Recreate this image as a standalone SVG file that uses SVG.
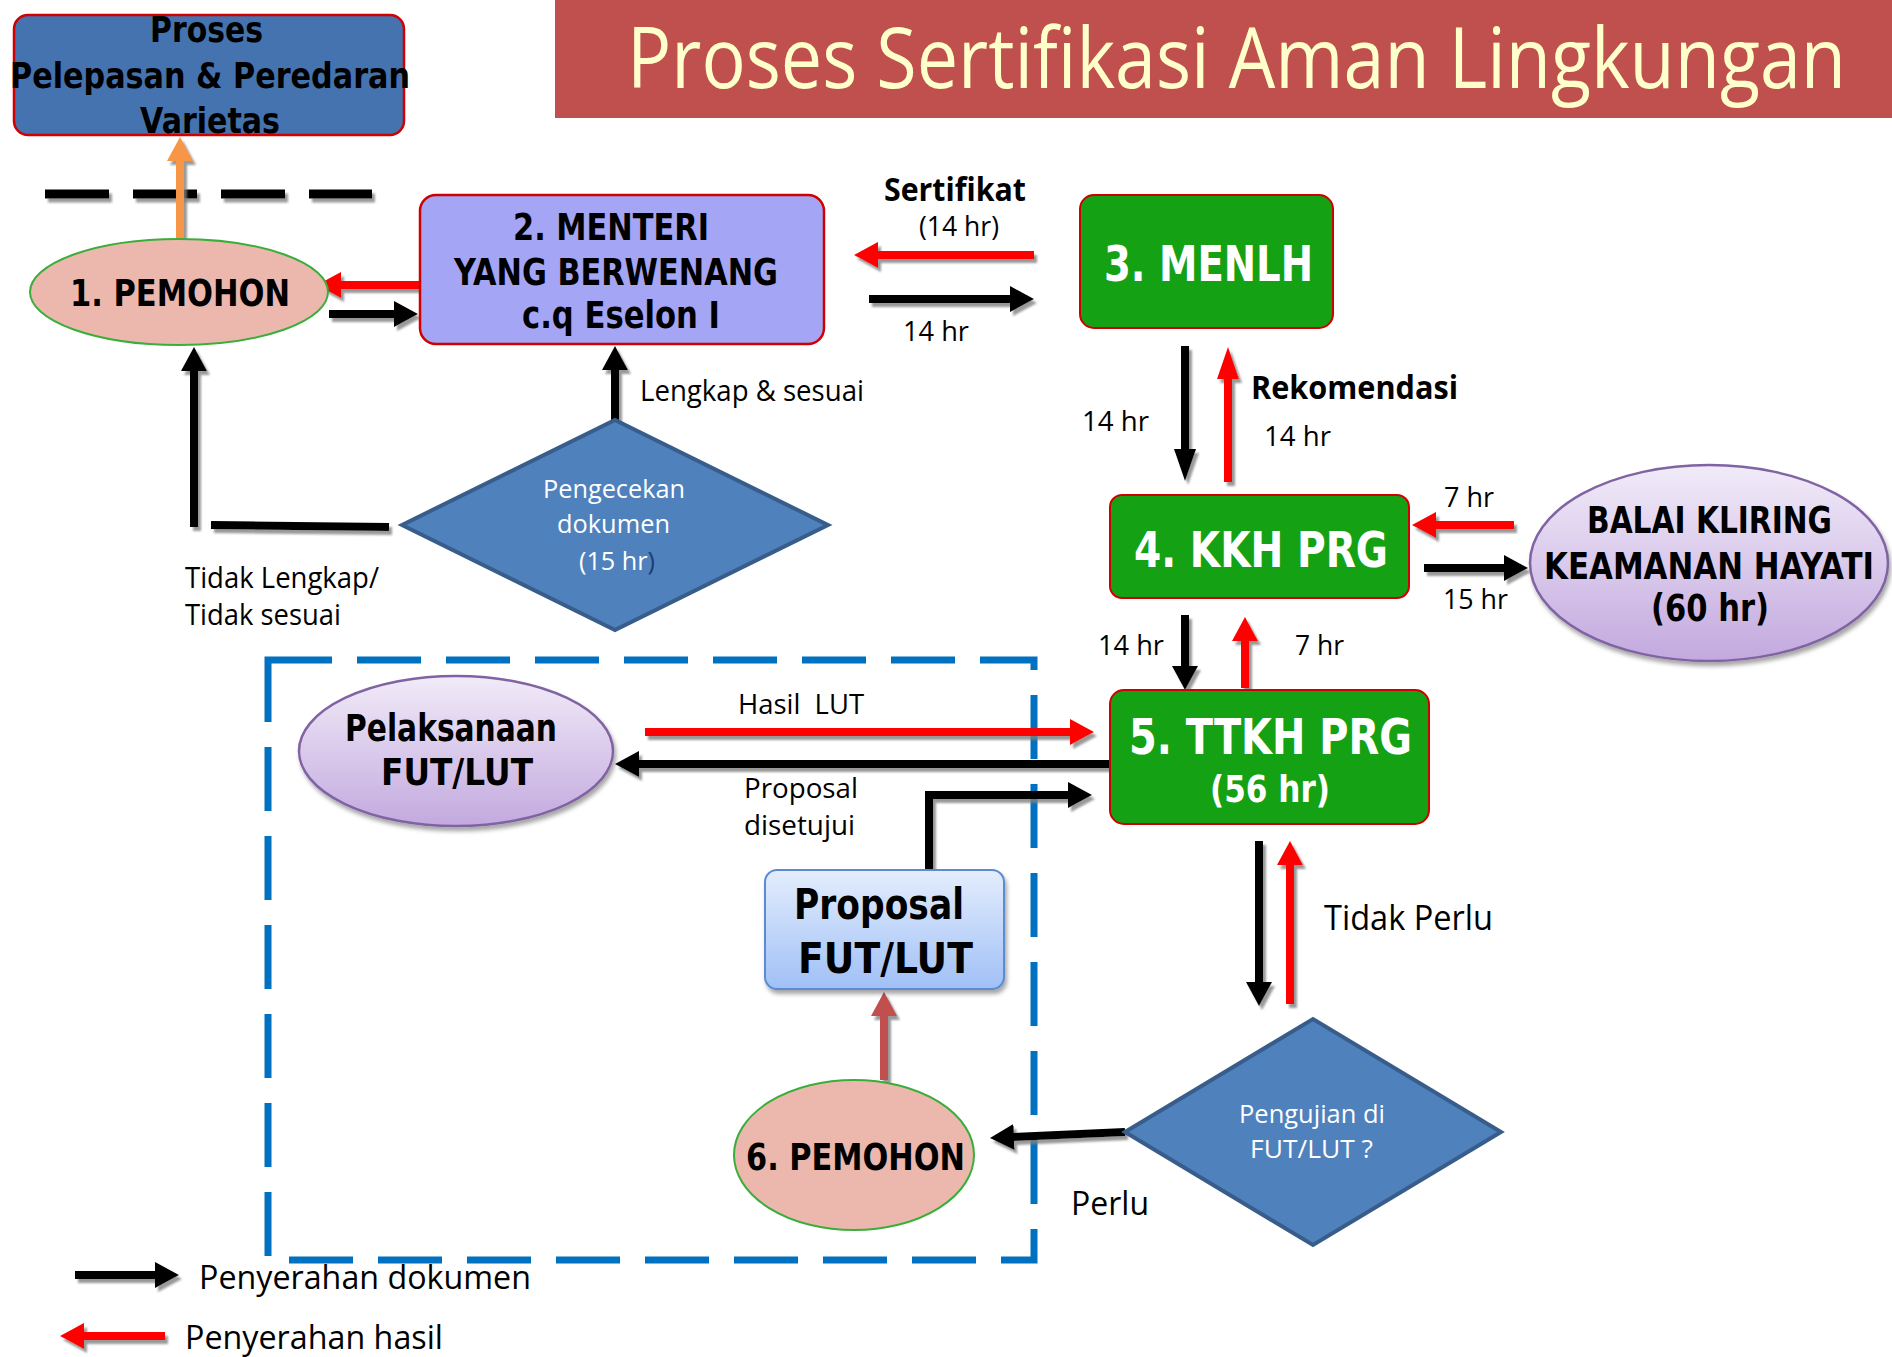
<svg xmlns="http://www.w3.org/2000/svg" width="1892" height="1357" viewBox="0 0 1892 1357">
<style>
.b{font-family:"DejaVu Sans","Liberation Sans",sans-serif;font-weight:bold;fill:#000}
.w{fill:#fff}
.r{font-family:"Open Sans","Liberation Sans",sans-serif;fill:#000}
.rb{font-family:"Open Sans","Liberation Sans",sans-serif;font-weight:bold;fill:#000}
.ln{fill:none;stroke-width:8}
.k{stroke:#000}.red{stroke:#ff0000}.or{stroke:#f79646}.br{stroke:#c0504d}
.grn{fill:#14a114;stroke:#d00000;stroke-width:2}
.dia{fill:#4f81bd;stroke:#385d8a;stroke-width:4}
</style>
<defs>
<filter id="ash" filterUnits="userSpaceOnUse" x="0" y="0" width="1892" height="1357">
<feDropShadow dx="3" dy="4" stdDeviation="0.8" flood-color="#808080" flood-opacity="0.8"/>
</filter>
<filter id="nsh" x="-10%" y="-10%" width="130%" height="130%">
<feDropShadow dx="2" dy="4" stdDeviation="2" flood-color="#000" flood-opacity="0.35"/>
</filter>
<linearGradient id="pg" x1="0" y1="0" x2="0" y2="1"><stop offset="0" stop-color="#f1ebf8"/><stop offset="1" stop-color="#c3a9df"/></linearGradient>
<linearGradient id="bg" x1="0" y1="0" x2="0" y2="1"><stop offset="0" stop-color="#e4edfd"/><stop offset="1" stop-color="#a0c0f6"/></linearGradient>
<marker id="mk" viewBox="0 0 24 26" markerWidth="24" markerHeight="26" refX="1" refY="13" orient="auto" markerUnits="userSpaceOnUse"><path d="M0,0L24,13L0,26z" fill="#000"/></marker>
<marker id="mr" viewBox="0 0 24 26" markerWidth="24" markerHeight="26" refX="1" refY="13" orient="auto" markerUnits="userSpaceOnUse"><path d="M0,0L24,13L0,26z" fill="#ff0000"/></marker>
<marker id="mo" viewBox="0 0 24 26" markerWidth="24" markerHeight="26" refX="1" refY="13" orient="auto" markerUnits="userSpaceOnUse"><path d="M0,0L24,13L0,26z" fill="#f79646"/></marker>
<marker id="mb" viewBox="0 0 24 26" markerWidth="24" markerHeight="26" refX="1" refY="13" orient="auto" markerUnits="userSpaceOnUse"><path d="M0,0L24,13L0,26z" fill="#c0504d"/></marker>
<marker id="mkl" viewBox="0 0 32 22" markerWidth="32" markerHeight="22" refX="1" refY="11" orient="auto" markerUnits="userSpaceOnUse"><path d="M0,0L32,11L0,22z" fill="#000"/></marker>
<marker id="mrl" viewBox="0 0 32 22" markerWidth="32" markerHeight="22" refX="1" refY="11" orient="auto" markerUnits="userSpaceOnUse"><path d="M0,0L32,11L0,22z" fill="#ff0000"/></marker>
</defs>
<rect width="1892" height="1357" fill="#fff"/>

<g id="title">
<rect x="555" y="0" width="1337" height="118" fill="#c0504d"/>
<text class="r" x="627" y="88" font-size="84" textLength="1219" lengthAdjust="spacingAndGlyphs" style="fill:#ffffcc">Proses Sertifikasi Aman Lingkungan</text>
</g>

<g id="divider" filter="url(#ash)">
<line x1="45" y1="194" x2="372" y2="194" stroke="#000" stroke-width="9" stroke-dasharray="64 24"/>
</g>

<g id="fut-area">
<rect x="268" y="660" width="766" height="600" fill="none" stroke="#0070c0" stroke-width="7" stroke-dasharray="64 25"/>
</g>

<g id="connectors" filter="url(#ash)">
<line class="ln or" x1="180" y1="240" x2="180" y2="160" stroke-width="7" marker-end="url(#mo)"/>
<line class="ln red" x1="420" y1="285" x2="340" y2="285" marker-end="url(#mr)"/>
<line class="ln k" x1="329" y1="314" x2="395" y2="314" marker-end="url(#mk)"/>
<line class="ln red" x1="1034" y1="255" x2="877" y2="255" marker-end="url(#mr)"/>
<line class="ln k" x1="869" y1="299" x2="1011" y2="299" marker-end="url(#mk)"/>
<line class="ln k" x1="1185" y1="346" x2="1185" y2="450" stroke-width="7" marker-end="url(#mkl)"/>
<line class="ln red" x1="1228" y1="482" x2="1228" y2="378" stroke-width="7" marker-end="url(#mrl)"/>
<line class="ln red" x1="1514" y1="525" x2="1435" y2="525" marker-end="url(#mr)"/>
<line class="ln k" x1="1424" y1="568" x2="1505" y2="568" marker-end="url(#mk)"/>
<line class="ln k" x1="1185" y1="615" x2="1185" y2="667" stroke-width="7" marker-end="url(#mk)"/>
<line class="ln red" x1="1245" y1="688" x2="1245" y2="640" stroke-width="7" marker-end="url(#mr)"/>
<line class="ln red" x1="645" y1="732" x2="1071" y2="732" marker-end="url(#mr)"/>
<line class="ln k" x1="1110" y1="764" x2="638" y2="764" marker-end="url(#mk)"/>
<path class="ln k" d="M929,870V795H1069" marker-end="url(#mk)"/>
<line class="ln br" x1="884" y1="1080" x2="884" y2="1015" stroke-width="7" marker-end="url(#mb)"/>
<line class="ln k" x1="1125" y1="1132" x2="1013" y2="1137" marker-end="url(#mk)"/>
<line class="ln k" x1="1259" y1="841" x2="1259" y2="983" stroke-width="7" marker-end="url(#mk)"/>
<line class="ln red" x1="1290" y1="1004" x2="1290" y2="864" stroke-width="7" marker-end="url(#mr)"/>
<line class="ln k" x1="615" y1="420" x2="615" y2="369" stroke-width="7" marker-end="url(#mk)"/>
<line class="ln k" x1="389" y1="527" x2="211" y2="525" stroke-width="9"/>
<line class="ln k" x1="194" y1="527" x2="194" y2="370" stroke-width="7" marker-end="url(#mk)"/>
<line class="ln k" x1="75" y1="1275" x2="156" y2="1275" marker-end="url(#mk)"/>
<line class="ln red" x1="165" y1="1336" x2="83" y2="1336" marker-end="url(#mr)"/>
</g>

<g id="node-proses">
<rect x="14" y="15" width="390" height="120" rx="14" fill="#4473b0" stroke="#d00000" stroke-width="2.5"/>
<text class="b" x="150" y="42" font-size="35" textLength="113" lengthAdjust="spacingAndGlyphs">Proses</text>
<text class="b" x="10" y="88" font-size="35" textLength="400" lengthAdjust="spacingAndGlyphs">Pelepasan &amp; Peredaran</text>
<text class="b" x="140" y="133" font-size="35" textLength="140" lengthAdjust="spacingAndGlyphs">Varietas</text>
</g>

<g id="node-pemohon1">
<ellipse cx="179" cy="292" rx="149" ry="53" fill="#ecb8ae" stroke="#3aae3a" stroke-width="2"/>
<text class="b" x="70" y="306" font-size="37" textLength="220" lengthAdjust="spacingAndGlyphs">1. PEMOHON</text>
</g>

<g id="node-menteri">
<rect x="420" y="195" width="404" height="149" rx="16" fill="#a5a5f5" stroke="#d00000" stroke-width="2.5"/>
<text class="b" x="513" y="240" font-size="37" textLength="196" lengthAdjust="spacingAndGlyphs">2. MENTERI</text>
<text class="b" x="454" y="285" font-size="37" textLength="324" lengthAdjust="spacingAndGlyphs">YANG BERWENANG</text>
<text class="b" x="522" y="328" font-size="37" textLength="198" lengthAdjust="spacingAndGlyphs">c.q Eselon I</text>
</g>

<g id="node-menlh">
<rect class="grn" x="1080" y="195" width="253" height="133" rx="14"/>
<text class="b w" x="1104" y="281" font-size="50" textLength="209" lengthAdjust="spacingAndGlyphs">3. MENLH</text>
</g>

<g id="node-kkh">
<rect class="grn" x="1110" y="495" width="299" height="103" rx="12"/>
<text class="b w" x="1134" y="567" font-size="49" textLength="254" lengthAdjust="spacingAndGlyphs">4. KKH PRG</text>
</g>

<g id="node-balai">
<ellipse cx="1709" cy="563" rx="179" ry="98" fill="url(#pg)" stroke="#8064a2" stroke-width="2.5" filter="url(#nsh)"/>
<text class="b" x="1587" y="533" font-size="37" textLength="245" lengthAdjust="spacingAndGlyphs">BALAI KLIRING</text>
<text class="b" x="1544" y="579" font-size="37" textLength="330" lengthAdjust="spacingAndGlyphs">KEAMANAN HAYATI</text>
<text class="b" x="1651" y="621" font-size="37" textLength="118" lengthAdjust="spacingAndGlyphs">(60 hr)</text>
</g>

<g id="node-ttkh">
<rect class="grn" x="1110" y="690" width="319" height="134" rx="14"/>
<text class="b w" x="1129" y="754" font-size="49" textLength="283" lengthAdjust="spacingAndGlyphs">5. TTKH PRG</text>
<text class="b w" x="1210" y="802" font-size="38" textLength="120" lengthAdjust="spacingAndGlyphs">(56 hr)</text>
</g>

<g id="node-pengecekan">
<polygon class="dia" points="402,525 615,420 828,525 615,630"/>
<text class="r" x="543" y="498" font-size="25" textLength="142" lengthAdjust="spacingAndGlyphs" style="fill:#fff">Pengecekan</text>
<text class="r" x="557" y="533" font-size="25" textLength="113" lengthAdjust="spacingAndGlyphs" style="fill:#fff">dokumen</text>
<text class="r" x="579" y="570" font-size="25" textLength="76" lengthAdjust="spacingAndGlyphs" style="fill:#fff">(15 hr<tspan style="fill:#1f3c6e">)</tspan></text>
</g>

<g id="node-pelaksanaan">
<ellipse cx="456" cy="751" rx="157" ry="75" fill="url(#pg)" stroke="#8064a2" stroke-width="2.5" filter="url(#nsh)"/>
<text class="b" x="345" y="741" font-size="37" textLength="212" lengthAdjust="spacingAndGlyphs">Pelaksanaan</text>
<text class="b" x="381" y="785" font-size="37" textLength="152" lengthAdjust="spacingAndGlyphs">FUT/LUT</text>
</g>

<g id="node-proposal">
<rect x="765" y="870" width="239" height="119" rx="12" fill="url(#bg)" stroke="#5b8bd0" stroke-width="2" filter="url(#nsh)"/>
<text class="b" x="794" y="919" font-size="43" textLength="170" lengthAdjust="spacingAndGlyphs">Proposal</text>
<text class="b" x="798" y="973" font-size="43" textLength="175" lengthAdjust="spacingAndGlyphs">FUT/LUT</text>
</g>

<g id="node-pemohon6">
<ellipse cx="854" cy="1155" rx="120" ry="75" fill="#ecb8ae" stroke="#3aae3a" stroke-width="2"/>
<text class="b" x="746" y="1170" font-size="37" textLength="219" lengthAdjust="spacingAndGlyphs">6. PEMOHON</text>
</g>

<g id="node-pengujian">
<polygon class="dia" points="1125,1132 1313,1019 1501,1132 1313,1245"/>
<text class="r" x="1239" y="1123" font-size="26" textLength="146" lengthAdjust="spacingAndGlyphs" style="fill:#fff">Pengujian di</text>
<text class="r" x="1250" y="1158" font-size="26" textLength="123" lengthAdjust="spacingAndGlyphs" style="fill:#fff">FUT/LUT ?</text>
</g>

<g id="labels">
<text class="rb" x="884" y="201" font-size="32" textLength="142" lengthAdjust="spacingAndGlyphs">Sertifikat</text>
<text class="r" x="919" y="236" font-size="27" textLength="80" lengthAdjust="spacingAndGlyphs">(14 hr)</text>
<text class="r" x="903" y="341" font-size="28" textLength="66" lengthAdjust="spacingAndGlyphs">14 hr</text>
<text class="r" x="1082" y="431" font-size="28" textLength="67" lengthAdjust="spacingAndGlyphs">14 hr</text>
<text class="rb" x="1251" y="399" font-size="33" textLength="207" lengthAdjust="spacingAndGlyphs">Rekomendasi</text>
<text class="r" x="1264" y="446" font-size="28" textLength="67" lengthAdjust="spacingAndGlyphs">14 hr</text>
<text class="r" x="1444" y="507" font-size="28" textLength="50" lengthAdjust="spacingAndGlyphs">7 hr</text>
<text class="r" x="1443" y="609" font-size="28" textLength="65" lengthAdjust="spacingAndGlyphs">15 hr</text>
<text class="r" x="1098" y="655" font-size="28" textLength="66" lengthAdjust="spacingAndGlyphs">14 hr</text>
<text class="r" x="1295" y="655" font-size="28" textLength="49" lengthAdjust="spacingAndGlyphs">7 hr</text>
<text class="r" x="640" y="401" font-size="30" textLength="224" lengthAdjust="spacingAndGlyphs">Lengkap &amp; sesuai</text>
<text class="r" x="185" y="588" font-size="30" textLength="194" lengthAdjust="spacingAndGlyphs">Tidak Lengkap/</text>
<text class="r" x="185" y="625" font-size="30" textLength="156" lengthAdjust="spacingAndGlyphs">Tidak sesuai</text>
<text class="r" x="738" y="714" font-size="27" textLength="126" lengthAdjust="spacingAndGlyphs" xml:space="preserve">Hasil  LUT</text>
<text class="r" x="744" y="798" font-size="27" textLength="114" lengthAdjust="spacingAndGlyphs">Proposal</text>
<text class="r" x="744" y="835" font-size="27" textLength="111" lengthAdjust="spacingAndGlyphs">disetujui</text>
<text class="r" x="1324" y="930" font-size="34" textLength="169" lengthAdjust="spacingAndGlyphs">Tidak Perlu</text>
<text class="r" x="1071" y="1215" font-size="32" textLength="78" lengthAdjust="spacingAndGlyphs">Perlu</text>
</g>

<g id="legend">
<text class="r" x="199" y="1289" font-size="33" textLength="332" lengthAdjust="spacingAndGlyphs">Penyerahan dokumen</text>
<text class="r" x="185" y="1349" font-size="33" textLength="258" lengthAdjust="spacingAndGlyphs">Penyerahan hasil</text>
</g>
</svg>
